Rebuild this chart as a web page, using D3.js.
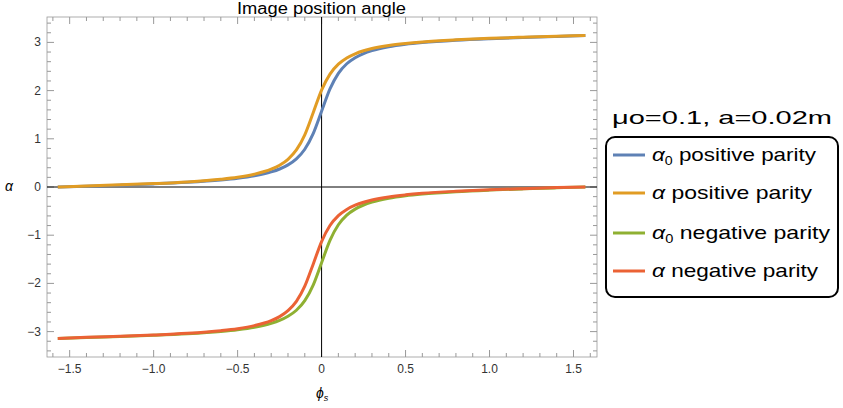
<!DOCTYPE html>
<html><head><meta charset="utf-8">
<script src="https://cdn.jsdelivr.net/npm/d3@7"></script>
<style>body{margin:0;background:#fff}text{font-family:"Liberation Sans",Arial,sans-serif}</style>
</head><body><svg id="c" width="843" height="408"></svg>
<script>
const phi = [-1.5708,-1.4,-1.2,-1.0,-0.8,-0.6,-0.5,-0.4,-0.3,-0.25,-0.2,-0.15,-0.1,-0.05,0,0.05,0.1,0.15,0.2,0.25,0.3,0.4,0.5,0.6,0.8,1.0,1.2,1.4,1.5708];
const alpha0Pos = [0,0.0173,0.0389,0.0641,0.0968,0.1452,0.1811,0.2322,0.3127,0.3734,0.4590,0.5845,0.7839,1.1072,1.5708,2.0344,2.3577,2.5571,2.6826,2.7682,2.8289,2.9094,2.9605,2.9964,3.0448,3.0775,3.1027,3.1243,3.1416];
const alphaPos = [0,0.0221,0.0444,0.0710,0.1060,0.1605,0.2022,0.2652,0.3689,0.4520,0.5754,0.7686,1.0835,1.5408,2.0102,2.3425,2.5478,2.6767,2.7638,2.8256,2.8718,2.9362,2.9787,3.0105,3.0533,3.0838,3.1077,3.1292,3.1416];
const alpha0Neg = [-3.1416,-3.1243,-3.1027,-3.0775,-3.0448,-2.9964,-2.9605,-2.9094,-2.8289,-2.7682,-2.6826,-2.5571,-2.3577,-2.0344,-1.5708,-1.1072,-0.7839,-0.5845,-0.4590,-0.3734,-0.3127,-0.2322,-0.1811,-0.1452,-0.0968,-0.0641,-0.0389,-0.0173,0];
const alphaNeg = [-3.1416,-3.1195,-3.0972,-3.0706,-3.0356,-2.9811,-2.9394,-2.8764,-2.7727,-2.6896,-2.5662,-2.3730,-2.0581,-1.6008,-1.1314,-0.7991,-0.5938,-0.4649,-0.3778,-0.3160,-0.2698,-0.2054,-0.1629,-0.1311,-0.0883,-0.0578,-0.0339,-0.0124,0];
const xTicks = [-1.5,-1.0,-0.5,0,0.5,1.0,1.5];
const yTicks = [-3,-2,-1,0,1,2,3];
const seriesNames = ["positive parity","positive parity","negative parity","negative parity"];
const seriesSym = ["α0","α","α0","α"];
const colors = ["#5E81B5","#E19C24","#8FB032","#EB6235"];
const series = [alpha0Pos, alphaPos, alpha0Neg, alphaNeg];

const svg = d3.select("#c");
const L=47,R=597,T=17,B=357;
const x = d3.scaleLinear().domain([-1.635,1.64]).range([L,R]);
const y = d3.scaleLinear().domain([-3.527,3.527]).range([B,T]);
const g = svg.append("g");
g.append("rect").attr("x",L).attr("y",T).attr("width",R-L).attr("height",B-T).attr("fill","none").attr("stroke","#999").attr("stroke-width",0.8);
const minorX = d3.range(-16,17).map(i=>i/10);
const minorY = d3.range(-17,18).map(i=>i/5);
minorX.forEach(v=>{const big=xTicks.some(t=>Math.abs(t-v)<1e-6);const l=big?7:4;
 g.append("line").attr("x1",x(v)).attr("x2",x(v)).attr("y1",B).attr("y2",B-l).attr("stroke","#999");
 g.append("line").attr("x1",x(v)).attr("x2",x(v)).attr("y1",T).attr("y2",T+l).attr("stroke","#999");});
minorY.forEach(v=>{const big=yTicks.some(t=>Math.abs(t-v)<1e-6);const l=big?7:4;
 g.append("line").attr("y1",y(v)).attr("y2",y(v)).attr("x1",L).attr("x2",L+l).attr("stroke","#999");
 g.append("line").attr("y1",y(v)).attr("y2",y(v)).attr("x1",R).attr("x2",R-l).attr("stroke","#999");});
xTicks.forEach(v=>g.append("text").attr("x",x(v)).attr("y",B+16).attr("text-anchor","middle").attr("font-size",12).attr("fill","#333").text(v===0?"0":(v<0?"−":"")+Math.abs(v).toFixed(1)));
yTicks.forEach(v=>g.append("text").attr("x",L-6).attr("y",y(v)+4).attr("text-anchor","end").attr("font-size",12).attr("fill","#333").text((v<0?"−":"")+Math.abs(v)));
g.append("line").attr("x1",x(0)).attr("x2",x(0)).attr("y1",T).attr("y2",B).attr("stroke","#000").attr("stroke-width",1);
g.append("line").attr("x1",L).attr("x2",R).attr("y1",y(0)).attr("y2",y(0)).attr("stroke","#000").attr("stroke-width",1);
const line = d3.line().x((d,i)=>x(phi[i])).y(d=>y(d)).curve(d3.curveMonotoneX);
series.forEach((s,k)=>g.append("path").attr("d",line(s)).attr("fill","none").attr("stroke",colors[k]).attr("stroke-width",3));
svg.append("text").attr("x",237).attr("y",14).attr("font-size",16).attr("textLength",169).attr("lengthAdjust","spacingAndGlyphs").text("Image position angle");
const xl=svg.append("text").attr("x",316).attr("y",398).attr("font-size",14).attr("font-style","italic").text("ϕ");
xl.append("tspan").attr("font-size",9).attr("dy",3).text("s");
svg.append("text").attr("x",9).attr("y",191).attr("text-anchor","middle").attr("font-size",14).attr("font-style","italic").text("α");
// legend
svg.append("text").attr("x",612).attr("y",124).attr("font-size",19).attr("textLength",220).attr("lengthAdjust","spacingAndGlyphs").text("μo=0.1, a=0.02m");
svg.append("rect").attr("x",606).attr("y",137).attr("width",232).attr("height",160).attr("rx",9).attr("fill","#fff").attr("stroke","#000").attr("stroke-width",2);
const ly=[155,193,233,271];
const lw=[164,160,178,166];
series.forEach((s,k)=>{
 svg.append("line").attr("x1",613).attr("x2",645).attr("y1",ly[k]).attr("y2",ly[k]).attr("stroke",colors[k]).attr("stroke-width",3);
 const t=svg.append("text").attr("x",652).attr("y",ly[k]+6).attr("font-size",19).attr("textLength",lw[k]).attr("lengthAdjust","spacingAndGlyphs");
 t.append("tspan").attr("font-style","italic").text("α");
 if(seriesSym[k]==="α0"){t.append("tspan").attr("font-size",12).attr("dy",4).text("0");t.append("tspan").attr("dy",-4).text(" "+seriesNames[k]);}
 else t.append("tspan").text(" "+seriesNames[k]);
});
</script></body></html>
